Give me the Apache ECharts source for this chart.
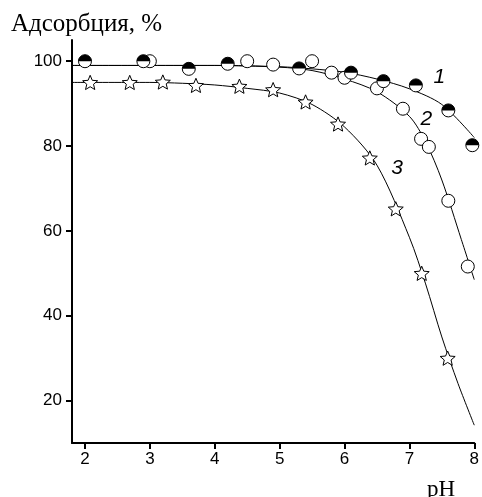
<!DOCTYPE html>
<html>
<head>
<meta charset="utf-8">
<script src="https://cdn.jsdelivr.net/npm/echarts@6/dist/echarts.min.js"></script>
<style>
  html, body { margin: 0; padding: 0; background: #fff; }
  #main { width: 482px; height: 497px; }
</style>
</head>
<body>
<div id="main"></div>
<script>
// measured points (pH, adsorption %)
var pH1 = [2.0, 2.9, 3.6, 4.2, 5.3, 6.1, 6.6, 7.1, 7.6, 7.97];
var ads1 = [100, 100, 98.2, 99.4, 98.3, 97.3, 95.3, 94.3, 88.4, 80.2];

var pH2 = [3.0, 4.5, 4.9, 5.5, 5.8, 6.0, 6.5, 6.9, 7.18, 7.3, 7.6, 7.9];
var ads2 = [100, 100, 99.2, 100, 97.3, 96.1, 93.6, 88.8, 81.7, 79.8, 67.1, 51.6];

var pH3 = [2.08, 2.69, 3.2, 3.71, 4.38, 4.9, 5.4, 5.9, 6.39, 6.79, 7.19, 7.59];
var ads3 = [95, 95, 95.1, 94.3, 94.1, 93.3, 90.4, 85.2, 77.2, 65.2, 50, 30];

// fitted curves
var fitX1 = [1.8, 3, 4, 5, 5.5, 6, 6.5, 7, 7.5, 8];
var fitY1 = [99, 99, 99, 98.7, 98.2, 97.4, 95.8, 93.5, 89.8, 82];

var fitX2 = [1.8, 3, 4, 5, 5.5, 6, 6.5, 7, 7.25, 7.5, 7.8, 8];
var fitY2 = [99, 99, 99, 98.6, 97.8, 95.8, 92.8, 87, 81, 72, 58, 48.5];

var fitX3 = [1.8, 3, 3.5, 4, 4.5, 5, 5.5, 6, 6.5, 7, 7.25, 7.5, 7.75, 8];
var fitY3 = [95, 95, 94.8, 94.4, 93.6, 92.5, 89.8, 84.5, 75.5, 58.5, 47.5, 35, 24, 14.2];

// curve numbers
var labelText = ['1', '2', '3'];
var labelX = [7.46, 7.26, 6.81];
var labelY = [96.2, 86.4, 74.9];

var xTicks = [2, 3, 4, 5, 6, 7, 8];
var yTicks = [20, 40, 60, 80, 100];

function zip(a, b) {
  return a.map(function (v, i) { return [v, b[i]]; });
}

var starPath = 'path://M10,0 L12.65,6.36 L19.51,6.91 L14.28,11.39 L15.88,18.09 L10,14.5 L4.12,18.09 L5.72,11.39 L0.49,6.91 L7.36,6.36 Z';
var halfPath = 'path://M0,10 A10,10 0 0 1 20,10 Z';

var chart = echarts.init(document.getElementById('main'));

function curve(x, y) {
  return {
    type: 'line',
    data: zip(x, y),
    showSymbol: false,
    symbol: 'none',
    smooth: 0.3,
    lineStyle: { color: '#000', width: 1 },
    z: 1
  };
}

var option = {
  animation: false,
  backgroundColor: '#fff',
  grid: { left: 72, right: 6, top: 40, bottom: 54 },
  xAxis: {
    type: 'value',
    min: 1.8,
    max: 8,
    axisLine: { show: true, onZero: false, lineStyle: { color: '#000', width: 2 } },
    axisTick: { show: true, customValues: xTicks, length: 6, lineStyle: { color: '#000', width: 2 } },
    axisLabel: { customValues: xTicks, color: '#000', fontSize: 17, fontFamily: 'Liberation Sans', margin: 8 },
    splitLine: { show: false }
  },
  yAxis: {
    type: 'value',
    min: 10,
    max: 105,
    axisLine: { show: true, onZero: false, lineStyle: { color: '#000', width: 2 } },
    axisTick: { show: true, customValues: yTicks, length: 6, lineStyle: { color: '#000', width: 2 } },
    axisLabel: { customValues: yTicks, color: '#000', fontSize: 17, fontFamily: 'Liberation Sans', margin: 10 },
    splitLine: { show: false }
  },
  graphic: [
    {
      type: 'text', left: 11, top: 12,
      style: { text: 'Адсорбция, %', font: '25px "Liberation Serif"', fill: '#000' }
    },
    {
      type: 'text', x: 441, y: 478,
      style: { text: 'pH', font: '23px "Liberation Serif"', fill: '#000', align: 'center', verticalAlign: 'top' }
    }
  ],
  series: [
    curve(fitX1, fitY1),
    curve(fitX2, fitY2),
    curve(fitX3, fitY3),
    {
      type: 'scatter',
      data: zip(pH3, ads3),
      symbol: starPath,
      symbolSize: 15,
      symbolKeepAspect: true,
      itemStyle: { color: '#fff', borderColor: '#000', borderWidth: 1, opacity: 1 },
      z: 3
    },
    {
      type: 'scatter',
      data: zip(pH2, ads2),
      symbol: 'circle',
      symbolSize: 13,
      itemStyle: { color: '#fff', borderColor: '#000', borderWidth: 1, opacity: 1 },
      z: 3
    },
    {
      type: 'scatter',
      data: zip(pH1, ads1),
      symbol: 'circle',
      symbolSize: 13,
      itemStyle: { color: '#fff', borderColor: '#000', borderWidth: 1, opacity: 1 },
      z: 4
    },
    {
      type: 'scatter',
      data: zip(pH1, ads1),
      symbol: halfPath,
      symbolSize: [13, 6.5],
      symbolOffset: [0, -3.25],
      itemStyle: { color: '#000', opacity: 1 },
      z: 5
    },
    {
      type: 'scatter',
      data: labelX.map(function (x, i) { return { value: [x, labelY[i]], name: labelText[i] }; }),
      symbolSize: 1,
      itemStyle: { color: 'rgba(0,0,0,0)', opacity: 1 },
      label: {
        show: true,
        position: 'inside',
        formatter: '{b}',
        color: '#000',
        textBorderWidth: 0,
        fontSize: 21,
        fontStyle: 'italic',
        fontFamily: 'Liberation Sans'
      },
      z: 6
    }
  ]
};

chart.setOption(option);
</script>
</body>
</html>
